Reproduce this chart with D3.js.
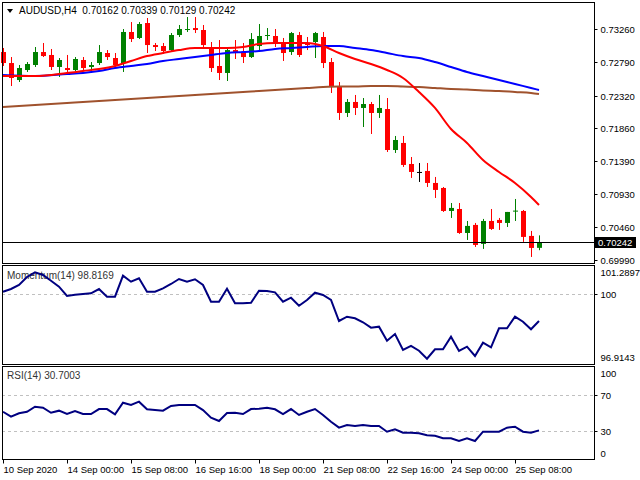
<!DOCTYPE html>
<html><head><meta charset="utf-8">
<script src="https://cdn.jsdelivr.net/npm/d3@7"></script>
<style>
body{margin:0;background:#fff;}
svg text{font-family:"Liberation Sans",Arial,sans-serif;}
</style>
</head><body>
<svg id="c" width="640" height="480"></svg>
<script>
// ---------- data ----------
const symbolLabel = "AUDUSD,H4";
const lastQuote = [0.70162, 0.70339, 0.70129, 0.70242];

const openP = [.72938,.72782,.72541,.72683,.72754,.72938,.72896,.72726,.72711,.72683,
 .72825,.72726,.72782,.72924,.72853,.72782,.73222,.73137,.73349,.73037,
 .73023,.72966,.73179,.73250,.73278,.73250,.73009,.72740,.72641,.72966,
 .72938,.72867,.73023,.73165,.73165,.73066,.72938,.73179,.73066,.73080,
 .73151,.72796,.72456,.72074,.72230,.72145,.72201,.72074,.72130,.71549,
 .71649,.71351,.71238,.71252,.71082,.71011,.70685,.70713,.70373,.70487,
 .70218,.70543,.70558,.70515,.70685,.70685,.70331,.70162];
const highP = [.72995,.72867,.72754,.72796,.73009,.73066,.72981,.72853,.72896,.72867,
 .72867,.72796,.73037,.72966,.72924,.73264,.73363,.73363,.73420,.73066,
 .73066,.73207,.73321,.73434,.73434,.73321,.73080,.73108,.73009,.73108,
 .73066,.73207,.73335,.73278,.73264,.73137,.73222,.73222,.73151,.73222,
 .73222,.72853,.72513,.72272,.72329,.72286,.72230,.72329,.72286,.71748,
 .71748,.71450,.71365,.71365,.71167,.71025,.70798,.70798,.70543,.70515,
 .70572,.70713,.70586,.70671,.70855,.70699,.70402,.70339];
const lowP = [.72740,.72456,.72513,.72655,.72726,.72867,.72683,.72584,.72655,.72669,
 .72669,.72641,.72754,.72825,.72726,.72655,.73080,.73122,.72924,.72952,
 .72910,.72938,.73151,.73222,.73207,.72981,.72655,.72541,.72527,.72839,
 .72782,.72853,.72966,.73108,.73009,.72811,.72896,.72867,.72966,.72853,
 .72711,.72357,.71975,.72017,.72045,.71875,.71776,.72003,.71521,.71507,
 .71309,.71153,.71096,.71025,.70869,.70671,.70586,.70360,.70274,.70175,
 .70147,.70416,.70416,.70458,.70543,.70246,.70033,.70129];
const closeP = [.72782,.72570,.72711,.72768,.72938,.72881,.72726,.72825,.72683,.72839,
 .72711,.72754,.72938,.72867,.72754,.73222,.73122,.73335,.73037,.73009,
 .72952,.73179,.73264,.73264,.73250,.73037,.72711,.72641,.72966,.72924,
 .72867,.73122,.73165,.73179,.73066,.72924,.73207,.72896,.73037,.73207,
 .72782,.72442,.72074,.72230,.72145,.72201,.72074,.72145,.71549,.71691,
 .71337,.71238,.71238,.71082,.70983,.70685,.70728,.70373,.70473,.70203,
 .70543,.70430,.70515,.70671,.70690,.70317,.70161,.70242];

const maIdx = [0,4,8,10,12,14,16,18,20,22,24,26,28,30,32,34,36,38,40,42,44,46,48,50,52,54,56,58,60,62,64,66,67];
const maRed = [.72598,.72598,.72641,.72669,.72697,.72740,.72811,.72881,.72924,.72966,.72995,.72995,.72995,.73009,.73052,.73066,.73066,.73066,.73023,.72924,.72839,.72768,.72683,.72570,.72371,.72145,.71847,.71649,.71408,.71238,.71082,.70884,.70770];
const maBlue = [.72612,.72598,.72626,.72641,.72669,.72711,.72740,.72768,.72811,.72839,.72867,.72896,.72924,.72938,.72952,.72981,.72995,.73009,.73023,.73023,.72995,.72966,.72924,.72881,.72853,.72796,.72726,.72655,.72598,.72541,.72485,.72428,.72400];
const maBrown = [.72159,.72187,.72215,.72230,.72244,.72258,.72272,.72286,.72301,.72315,.72329,.72343,.72357,.72371,.72386,.72400,.72414,.72428,.72442,.72449,.72449,.72456,.72456,.72449,.72442,.72428,.72414,.72407,.72393,.72386,.72371,.72357,.72343];

const momentum = [100.110,100.229,100.406,100.760,100.967,100.848,100.596,100.331,99.920,99.977,
 100.008,100.039,100.229,99.889,99.889,100.817,100.552,100.702,100.110,100.110,
 100.260,100.450,100.671,100.552,100.658,100.406,99.668,99.668,100.242,99.597,
 99.597,99.624,100.154,100.141,100.083,99.668,99.845,99.491,99.743,100.066,
 99.964,99.743,98.815,99.005,98.935,98.758,98.519,98.563,97.945,98.241,
 97.534,97.711,97.503,97.149,97.565,97.565,98.121,97.490,97.680,97.268,
 97.856,97.653,98.492,98.492,99.005,98.784,98.448,98.8169];
const rsi = [51.4,45.9,49.7,51.4,57.0,55.9,50.3,52.6,48.9,52.2,
 48.9,48.9,54.4,54.4,48.6,61.4,58.9,62.6,54.1,53.3,
 52.6,57.8,58.9,58.9,58.9,53.3,44.8,41.1,50.0,50.3,
 48.9,54.4,54.8,55.9,54.1,48.9,54.4,47.8,51.4,54.4,
 47.8,40.3,33.7,36.7,35.6,36.7,35.6,35.6,29.2,31.9,
 28.1,28.1,27.4,25.2,24.8,21.9,21.9,18.9,21.9,18.9,
 29.2,29.2,29.2,33.7,34.8,29.2,28.1,30.7003];

const priceTicks = [0.73260,0.72790,0.72320,0.71860,0.71390,0.70930,0.70460,0.69990];
const momTicks = [101.2897, 100, 96.9143];
const rsiTicks = [100, 70, 30, 0];
const rsiLevels = [70, 30];
const momLevels = [100];
const xTickIdx = [0,8,16,24,32,40,48,56,64];
const xTickLabels = ["10 Sep 2020","14 Sep 00:00","15 Sep 08:00","16 Sep 16:00","18 Sep 00:00","21 Sep 08:00","22 Sep 16:00","24 Sep 00:00","25 Sep 08:00"];

// ---------- layout ----------
const svg = d3.select("#c");
const L = 2, R = 594;
const main = {top: 2, bot: 263};
const momP = {top: 265, bot: 364};
const rsiP = {top: 366, bot: 459};

const x = d3.scaleLinear().domain([-0.125, 73.875]).range([L, R]);
const yP = d3.scaleLinear().domain([0.699474, 0.73647]).range([main.bot, main.top]);
const yM = d3.scaleLinear().domain([96.9143, 101.2897]).range([momP.bot, momP.top]);
const yR = d3.scaleLinear().domain([0, 100]).range([rsiP.bot - 1, rsiP.top + 2]);

svg.append("rect").attr("width",640).attr("height",480).attr("fill","#fff");

// level lines
function levels(vals, sc){
  svg.append("g").selectAll("line").data(vals).join("line")
    .attr("x1", L).attr("x2", R)
    .attr("y1", d => Math.round(sc(d)) + 0.5).attr("y2", d => Math.round(sc(d)) + 0.5)
    .attr("stroke", "#c0c0c0").attr("stroke-dasharray", "3,3");
}
levels(momLevels, yM);
levels(rsiLevels, yR);

// candles
const idx = d3.range(openP.length);
const cg = svg.append("g");
idx.forEach(i => {
  const o = openP[i], c = closeP[i];
  const col = c > o ? "#008000" : (c < o ? "#ff0000" : "#000000");
  const cx = Math.round(x(i));
  cg.append("line").attr("x1", cx + 0.5).attr("x2", cx + 0.5)
    .attr("y1", yP(highP[i])).attr("y2", yP(lowP[i]))
    .attr("stroke", col).attr("stroke-width", 1);
  const yt = yP(Math.max(o, c)), yb = yP(Math.min(o, c));
  cg.append("rect").attr("x", cx - 2).attr("width", 5)
    .attr("y", yt).attr("height", Math.max(1, yb - yt))
    .attr("fill", col);
});

// moving averages
function maLine(vals, col){
  const line = d3.line().x((d, k) => x(maIdx[k])).y(d => yP(d)).curve(d3.curveMonotoneX);
  svg.append("path").datum(vals).attr("d", line)
    .attr("fill", "none").attr("stroke", col).attr("stroke-width", 2);
}
maLine(maBrown, "#a0522d");
maLine(maBlue, "#0000ff");
maLine(maRed, "#ff0000");

// current price line
const lastY = Math.round(yP(lastQuote[3])) + 0.5;
svg.append("line").attr("x1", L).attr("x2", R).attr("y1", lastY).attr("y2", lastY)
  .attr("stroke", "#000").attr("stroke-width", 1);

// indicator labels (drawn under lines)
svg.append("text").attr("x", 7).attr("y", 279).attr("font-size", 10).attr("fill", "#333")
  .text("Momentum(14) 98.8169");
svg.append("text").attr("x", 7).attr("y", 379).attr("font-size", 10).attr("fill", "#333")
  .text("RSI(14) 30.7003");

// indicator lines
svg.append("path").datum(momentum)
  .attr("d", d3.line().x((d, i) => x(i)).y(d => yM(d)))
  .attr("fill", "none").attr("stroke", "#000080").attr("stroke-width", 2);
svg.append("path").datum(rsi)
  .attr("d", d3.line().x((d, i) => x(i)).y(d => yR(d)))
  .attr("fill", "none").attr("stroke", "#000080").attr("stroke-width", 2);

// panel borders
[main, momP, rsiP].forEach(p => {
  svg.append("rect").attr("x", L + 0.5).attr("y", p.top + 0.5)
    .attr("width", R - L).attr("height", p.bot - p.top)
    .attr("fill", "none").attr("stroke", "#000").attr("stroke-width", 1);
});

// right axes
function rightAxis(sc, vals, fmt, shifts){
  const g = svg.append("g").attr("transform", `translate(${R + 0.5},0)`)
    .call(d3.axisRight(sc).tickValues(vals).tickSize(3).tickPadding(3).tickFormat(fmt));
  g.select(".domain").remove();
  g.selectAll(".tick").attr("transform", (d, i) => `translate(0,${Math.round(sc(d)) + 0.5 + (shifts ? shifts[i] : 0)})`);
  g.selectAll("text").attr("font-size", 9.5).attr("fill", "#000").attr("font-family", "Liberation Sans, Arial, sans-serif");
  g.selectAll("line").attr("stroke", "#000");
  return g;
}
rightAxis(yP, priceTicks, d3.format(".5f"));
const mAx = rightAxis(yM, momTicks, d => String(d), [7, 0, -7]);
mAx.selectAll("line").filter((d, i) => i !== 1).remove();
const rAx = rightAxis(yR, rsiTicks, d => String(d), [5, 0, 0, -5]);
rAx.selectAll("line").filter(d => d === 100 || d === 0).remove();

// last price box
svg.append("rect").attr("x", 595).attr("y", lastY - 5.5).attr("width", 41).attr("height", 11).attr("fill", "#000");
svg.append("text").attr("x", 598).attr("y", lastY + 3.5).attr("font-size", 9.5).attr("fill", "#fff")
  .text(d3.format(".5f")(lastQuote[3]));

// bottom time axis
const xg = svg.append("g").attr("transform", `translate(0,${rsiP.bot + 0.5})`)
  .call(d3.axisBottom(x).tickValues(xTickIdx).tickSize(4).tickPadding(3).tickFormat((d, i) => xTickLabels[i]));
xg.select(".domain").remove();
xg.selectAll(".tick").attr("transform", d => `translate(${Math.round(x(d)) + 0.5},0)`);
xg.selectAll("line").attr("stroke", "#000");
xg.selectAll("text").attr("text-anchor", "start").attr("dx", 0).attr("font-size", 9.5)
  .attr("fill", "#000").attr("font-family", "Liberation Sans, Arial, sans-serif");

// header
svg.append("path").attr("d", "M7,9 L13,9 L10,13 Z").attr("fill", "#000");
svg.append("text").attr("x", 19).attr("y", 14).attr("font-size", 10).attr("fill", "#000")
  .style("white-space", "pre")
  .text(symbolLabel + "  " + lastQuote.map(d3.format(".5f")).join(" "));
</script>
</body></html>
